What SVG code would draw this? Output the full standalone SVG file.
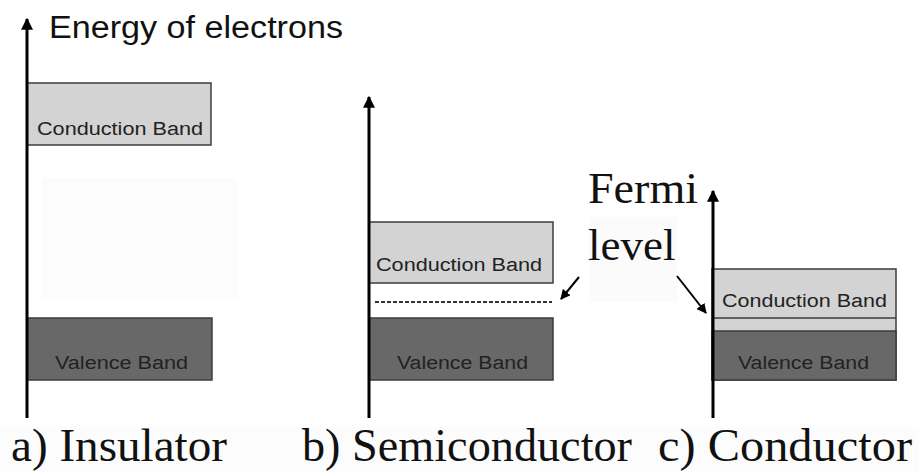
<svg xmlns="http://www.w3.org/2000/svg" width="919" height="472" viewBox="0 0 919 472">
  <style>
    .cb { fill: #d3d3d3; stroke: #3c3c3c; stroke-width: 1.5; }
    .vb { fill: #686868; stroke: #3c3c3c; stroke-width: 1.5; }
    .axis { stroke: #000; stroke-width: 3; fill: none; marker-end: url(#axisHead); }
    .ptr { stroke: #000; stroke-width: 2; fill: none; marker-end: url(#ptrHead); }
    .band { font-family: "Liberation Sans", Arial, sans-serif; font-size: 18px; fill: #222; }
    .cap { font-family: "Liberation Serif", "Times New Roman", serif; font-size: 46px; fill: #111; }
    .fermi { font-family: "Liberation Serif", "Times New Roman", serif; font-size: 45px; fill: #111; }
  </style>
  <defs>
    <marker id="axisHead" viewBox="0 0 10 10" refX="9" refY="5" markerWidth="4" markerHeight="4" orient="auto" markerUnits="strokeWidth">
      <path d="M0,0 L10,5 L0,10 z" fill="#000"/>
    </marker>
    <marker id="ptrHead" viewBox="0 0 10 10" refX="9" refY="5" markerWidth="5" markerHeight="5" orient="auto" markerUnits="strokeWidth">
      <path d="M0,0 L10,5 L0,10 z" fill="#000"/>
    </marker>
  </defs>

  <rect width="919" height="472" fill="#fff"/>
  <!-- faint backdrops -->
  <rect x="42" y="178" width="195" height="121" fill="#fcfcfc"/>
  <rect x="589" y="217" width="88" height="85" fill="#fbfbfb"/>
  <rect x="0" y="427" width="919" height="45" fill="#fcfcfc"/>

  <!-- a) Insulator -->
  <g id="insulator">
    <rect class="cb" x="27" y="83" width="184" height="62"/>
    <text class="band" x="37" y="135" textLength="166" lengthAdjust="spacingAndGlyphs">Conduction Band</text>
    <rect class="vb" x="27" y="318" width="185" height="62"/>
    <text class="band" x="55" y="369" textLength="133" lengthAdjust="spacingAndGlyphs">Valence Band</text>
    <text class="cap" x="11" y="461" textLength="216" lengthAdjust="spacingAndGlyphs">a) Insulator</text>
  </g>

  <!-- b) Semiconductor -->
  <g id="semiconductor">
    <rect class="cb" x="369" y="222" width="184" height="61"/>
    <text class="band" x="376" y="271" textLength="166" lengthAdjust="spacingAndGlyphs">Conduction Band</text>
    <line x1="375" y1="302" x2="552" y2="302" stroke="#333" stroke-width="2" stroke-dasharray="4 2"/>
    <rect class="vb" x="369" y="318" width="184" height="62"/>
    <text class="band" x="397" y="369" textLength="131" lengthAdjust="spacingAndGlyphs">Valence Band</text>
    <text class="cap" x="302" y="461" textLength="330" lengthAdjust="spacingAndGlyphs">b) Semiconductor</text>
  </g>

  <!-- c) Conductor -->
  <g id="conductor">
    <rect class="cb" x="712" y="269" width="184" height="111"/>
    <line x1="712" y1="318" x2="896" y2="318" stroke="#3c3c3c" stroke-width="1.5"/>
    <rect class="vb" x="712" y="331" width="184" height="49"/>
    <text class="band" x="722" y="307" textLength="165" lengthAdjust="spacingAndGlyphs">Conduction Band</text>
    <text class="band" x="738" y="369" textLength="131" lengthAdjust="spacingAndGlyphs">Valence Band</text>
    <text class="cap" x="658" y="461" textLength="254" lengthAdjust="spacingAndGlyphs">c) Conductor</text>
  </g>

  <!-- axis title and Fermi level label -->
  <g id="energy-label">
    <text x="49" y="38" font-family="'Liberation Sans', Arial, sans-serif" font-size="31" fill="#111" textLength="294" lengthAdjust="spacingAndGlyphs">Energy of electrons</text>
  </g>
  <g id="fermi-label">
    <text class="fermi" x="588" y="203" textLength="110" lengthAdjust="spacingAndGlyphs">Fermi</text>
    <text class="fermi" x="588" y="260">level</text>
  </g>

  <!-- connectors: energy axes and Fermi pointers -->
  <g id="connectors">
    <line class="axis" x1="27" y1="418" x2="27" y2="19"/>
    <line class="axis" x1="369" y1="418" x2="369" y2="97"/>
    <line class="axis" x1="713" y1="418" x2="713" y2="191"/>
    <line class="ptr" x1="579" y1="277" x2="561" y2="299"/>
    <line class="ptr" x1="677" y1="276" x2="706" y2="313"/>
  </g>
</svg>
